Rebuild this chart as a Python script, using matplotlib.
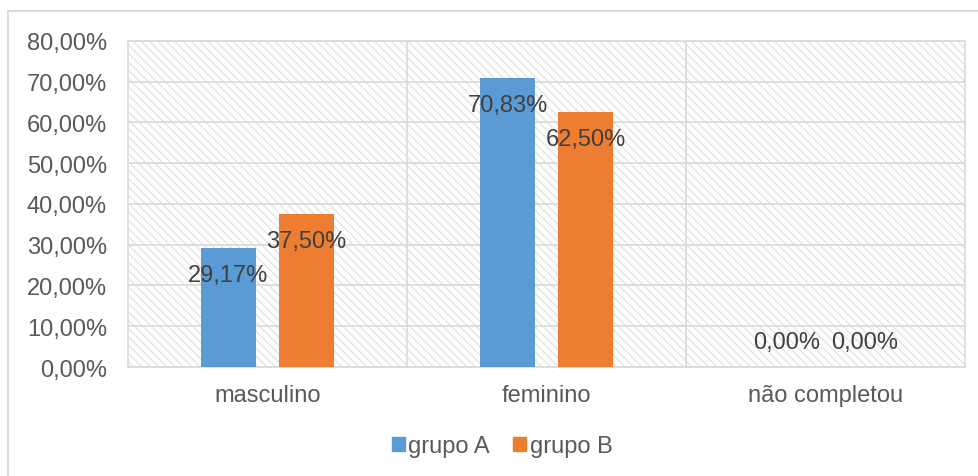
import numpy as np
import matplotlib.pyplot as plt
from matplotlib.patches import Rectangle, Patch

# categorias e percentuais de cada grupo
categorias = ["masculino", "feminino", "não completou"]
grupo_a = [29.17, 70.83, 0.00]
grupo_b = [37.50, 62.50, 0.00]
nomes_series = ["grupo A", "grupo B"]
ticks_y = [0, 10, 20, 30, 40, 50, 60, 70, 80]

cor_a = "#5B9BD5"
cor_b = "#ED7D31"
cinza_texto = "#595959"
cinza_linha = "#D9D9D9"
tam_fonte = 17

plt.rcParams['font.family'] = ['Liberation Sans', 'DejaVu Sans']
plt.rcParams['hatch.linewidth'] = 0.8


def fmt_pct(v):
    return f"{v:.2f}%".replace('.', ',')


fig = plt.figure(figsize=(9.79, 4.77), dpi=100)
ax = fig.add_axes([0.1307, 0.2285, 0.855, 0.6835])

# moldura externa do gráfico
fig.patches.append(Rectangle((8 / 979, -0.1), 1.2, 1.1 - 12 / 477,
                             transform=fig.transFigure, fill=False,
                             edgecolor=cinza_linha, lw=1.3, zorder=0))

# fundo hachurado da área de plotagem
ax.set_facecolor('white')
ax.add_patch(Rectangle((0, 0), 1, 1, transform=ax.transAxes,
                       facecolor='white', edgecolor='#E0E0E0',
                       hatch='\\\\\\\\', lw=0, zorder=0))

x = np.arange(len(categorias))
larg = 0.197
desl = 0.14

barras_a = ax.bar(x - desl, grupo_a, larg, color=cor_a, zorder=3)
barras_b = ax.bar(x + desl, grupo_b, larg, color=cor_b, zorder=3)

# rótulos de dados
for barras, valores in [(barras_a, grupo_a), (barras_b, grupo_b)]:
    for b, v in zip(barras, valores):
        dy = 25 if v == 0 else -27
        ax.annotate(fmt_pct(v), (b.get_x() + b.get_width() / 2, v),
                    xytext=(0, dy), textcoords='offset pixels',
                    ha='center', va='center', fontsize=tam_fonte,
                    color='#404040', zorder=4)

ax.set_xlim(-0.5, len(categorias) - 0.5)
ax.set_ylim(0, 80)
ax.set_yticks(ticks_y)
ax.set_yticklabels([fmt_pct(t) for t in ticks_y])
ax.set_xticks(x)
ax.set_xticklabels(categorias)
ax.tick_params(axis='both', length=0, labelsize=tam_fonte, labelcolor=cinza_texto)
ax.tick_params(axis='y', pad=15)
ax.tick_params(axis='x', pad=12)

# grade horizontal e divisões entre categorias
for t in ticks_y:
    ax.axhline(t, color=cinza_linha, lw=1.2, zorder=1)
for xv in x[:-1] + 0.5:
    ax.axvline(xv, color=cinza_linha, lw=1.2, zorder=1)

for s in ax.spines.values():
    s.set_color(cinza_linha)
    s.set_linewidth(1.2)

handles = [Patch(color=cor_a), Patch(color=cor_b)]
fig.legend(handles, nomes_series, loc='center', bbox_to_anchor=(0.513, 1 - 447 / 477),
           ncol=2, frameon=False, fontsize=tam_fonte, labelcolor=cinza_texto,
           handlelength=0.55, handleheight=0.55, handletextpad=0.15,
           columnspacing=1.0)

plt.savefig("out.png", dpi=100)
plt.close()
